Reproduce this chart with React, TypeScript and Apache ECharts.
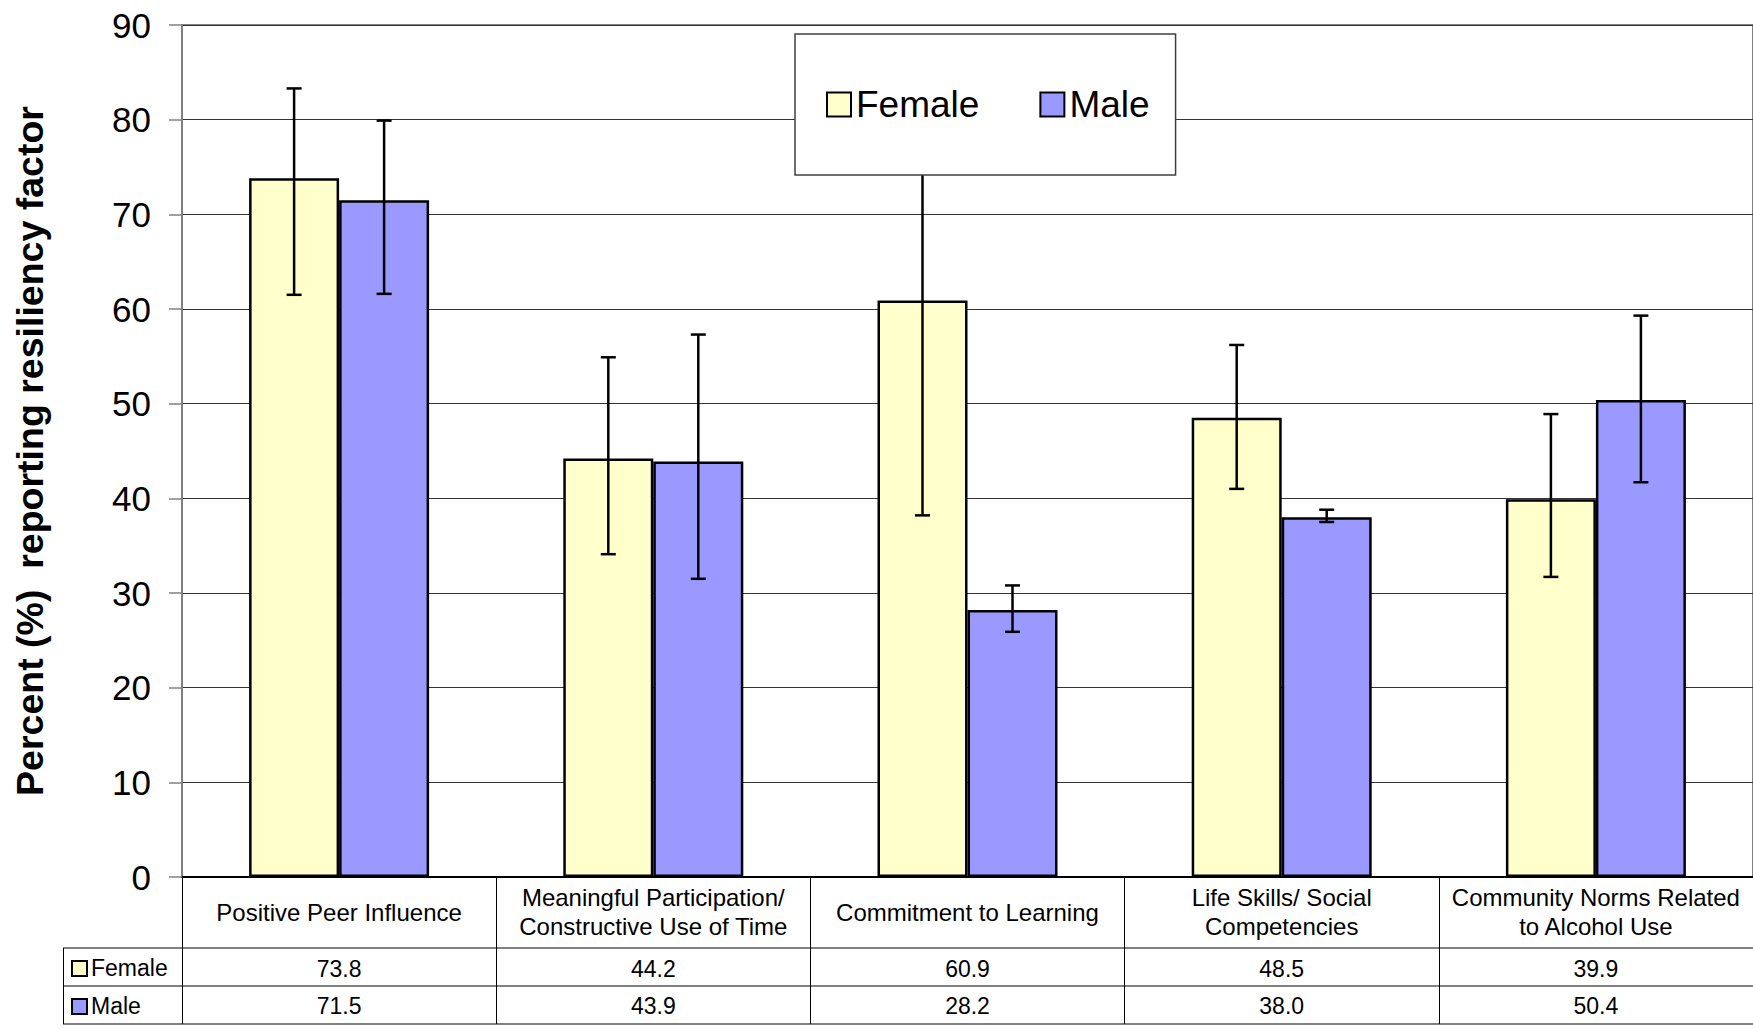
import React, { useEffect, useRef } from "react";
import * as echarts from "echarts";

const categories = [
  "Positive Peer Influence",
  "Meaningful Participation/\nConstructive Use of Time",
  "Commitment to Learning",
  "Life Skills/ Social\nCompetencies",
  "Community Norms Related\nto Alcohol Use",
];
const seriesNames = ["Female", "Male"];
const femaleValues = [73.8, 44.2, 60.9, 48.5, 39.9];
const maleValues = [71.5, 43.9, 28.2, 38.0, 50.4];
const femaleLow = [61.5, 34.1, 38.2, 41.0, 31.7];
const femaleHigh = [83.3, 54.9, 83.6, 56.2, 48.9];
const maleLow = [61.6, 31.5, 25.9, 37.5, 41.7];
const maleHigh = [79.9, 57.3, 30.8, 38.8, 59.3];
const yMin = 0;
const yMax = 90;
const yInterval = 10;
const yTitle = "Percent (%)  reporting resiliency factor";

const FEMALE_COLOR = "#FFFFCC";
const MALE_COLOR = "#9999FF";
const FONT = "'Liberation Sans', Arial, sans-serif";

const W = 1753;
const H = 1029;
const GRID_LEFT = 182;
const GRID_TOP = 25;
const GRID_BOTTOM_Y = 877;
const BAR_W = 90;

function errorRenderer(offset: number) {
  return (params: any, api: any) => {
    const x = api.value(0);
    const lo = api.coord([x, api.value(1)]);
    const hi = api.coord([x, api.value(2)]);
    const px = lo[0] + offset;
    const cap = 7.5;
    const style = { stroke: "#000", lineWidth: 2.5 };
    return {
      type: "group",
      children: [
        { type: "line", shape: { x1: px, y1: hi[1], x2: px, y2: lo[1] }, style },
        { type: "line", shape: { x1: px - cap, y1: hi[1], x2: px + cap, y2: hi[1] }, style },
        { type: "line", shape: { x1: px - cap, y1: lo[1], x2: px + cap, y2: lo[1] }, style },
      ],
    };
  };
}

export default function App() {
  const ref = useRef<HTMLDivElement>(null);

  useEffect(() => {
    if (!ref.current) return;
    const chart = echarts.init(ref.current, null, { renderer: "svg" });

    const tableLine = { stroke: "#808080", lineWidth: 2 };
    const option: any = {
      animation: false,
      backgroundColor: "#fff",
      textStyle: { fontFamily: FONT, color: "#000" },
      grid: {
        left: GRID_LEFT,
        top: GRID_TOP,
        width: W - GRID_LEFT + 2,
        height: GRID_BOTTOM_Y - GRID_TOP,
        show: true,
        borderColor: "#808080",
        borderWidth: 2,
        backgroundColor: "transparent",
      },
      legend: {
        data: seriesNames,
        left: 795,
        top: 34,
        orient: "horizontal",
        padding: [52, 26, 52, 31],
        itemWidth: 24,
        itemHeight: 24,
        itemGap: 60,
        icon: "rect",
        backgroundColor: "#fff",
        borderColor: "#404040",
        borderWidth: 1.5,
        textStyle: { fontSize: 37, fontFamily: FONT, color: "#000" },
        z: 10,
      },
      xAxis: [
        {
          type: "category",
          data: categories,
          position: "bottom",
          axisLine: { show: true, onZero: false, lineStyle: { color: "#000", width: 2 } },
          axisTick: { show: true, length: 147, interval: 0, lineStyle: { color: "#000", width: 1 } },
          axisLabel: {
            interval: 0,
            margin: 35,
            verticalAlign: "middle",
            fontSize: 24,
            lineHeight: 29,
            color: "#000",
            fontFamily: FONT,
          },
          splitLine: { show: false },
        },
        {
          type: "category",
          data: categories,
          position: "bottom",
          axisLine: { show: false, onZero: false },
          axisTick: { show: false },
          axisLabel: {
            interval: 0,
            margin: 92,
            verticalAlign: "middle",
            fontSize: 23,
            color: "#000",
            fontFamily: FONT,
            formatter: (_v: string, i: number) => femaleValues[i].toFixed(1),
          },
        },
        {
          type: "category",
          data: categories,
          position: "bottom",
          axisLine: { show: false, onZero: false },
          axisTick: { show: false },
          axisLabel: {
            interval: 0,
            margin: 129,
            verticalAlign: "middle",
            fontSize: 23,
            color: "#000",
            fontFamily: FONT,
            formatter: (_v: string, i: number) => maleValues[i].toFixed(1),
          },
        },
      ],
      yAxis: {
        type: "value",
        min: yMin,
        max: yMax,
        interval: yInterval,
        name: yTitle,
        nameLocation: "middle",
        nameGap: 152,
        nameRotate: 90,
        nameTextStyle: {
          fontSize: 37.5,
          fontWeight: "bold",
          fontFamily: FONT,
          color: "#000",
          verticalAlign: "middle",
        },
        axisLine: { show: true, lineStyle: { color: "#808080", width: 2 } },
        axisTick: { show: true, length: 13, lineStyle: { color: "#808080", width: 1.5 } },
        axisLabel: { fontSize: 35, margin: 31, color: "#000", fontFamily: FONT },
        splitLine: { show: true, lineStyle: { color: "#333", width: 1 } },
      },
      series: [
        {
          name: seriesNames[0],
          type: "bar",
          data: femaleValues,
          barWidth: BAR_W,
          barGap: "0%",
          itemStyle: { color: FEMALE_COLOR, borderColor: "#000", borderWidth: 2.5 },
          z: 2,
        },
        {
          name: seriesNames[1],
          type: "bar",
          data: maleValues,
          barWidth: BAR_W,
          barGap: "0%",
          itemStyle: { color: MALE_COLOR, borderColor: "#000", borderWidth: 2.5 },
          z: 2,
        },
        {
          name: "femaleError",
          type: "custom",
          renderItem: errorRenderer(-BAR_W / 2),
          encode: { x: 0, y: [1, 2] },
          data: femaleValues.map((_, i) => [i, femaleLow[i], femaleHigh[i]]),
          z: 3,
          silent: true,
        },
        {
          name: "maleError",
          type: "custom",
          renderItem: errorRenderer(BAR_W / 2),
          encode: { x: 0, y: [1, 2] },
          data: maleValues.map((_, i) => [i, maleLow[i], maleHigh[i]]),
          z: 3,
          silent: true,
        },
      ],
      graphic: [
        { type: "line", shape: { x1: 63, y1: 948, x2: W, y2: 948 }, style: tableLine },
        { type: "line", shape: { x1: 63, y1: 986, x2: W, y2: 986 }, style: tableLine },
        { type: "line", shape: { x1: 63, y1: 1024, x2: W, y2: 1024 }, style: tableLine },
        { type: "line", shape: { x1: 63.5, y1: 948, x2: 63.5, y2: 1024 }, style: { stroke: "#000", lineWidth: 1 } },
        {
          type: "rect",
          shape: { x: 72, y: 961, width: 15, height: 15 },
          style: { fill: FEMALE_COLOR, stroke: "#000", lineWidth: 2 },
        },
        {
          type: "text",
          x: 91,
          y: 968,
          style: { text: seriesNames[0], font: `23px ${FONT}`, fill: "#000", textVerticalAlign: "middle" },
        },
        {
          type: "rect",
          shape: { x: 72, y: 999, width: 15, height: 15 },
          style: { fill: MALE_COLOR, stroke: "#000", lineWidth: 2 },
        },
        {
          type: "text",
          x: 91,
          y: 1006,
          style: { text: seriesNames[1], font: `23px ${FONT}`, fill: "#000", textVerticalAlign: "middle" },
        },
      ],
    };

    chart.setOption(option);
    return () => chart.dispose();
  }, []);

  return (
    <div
      ref={ref}
      style={{ position: "absolute", left: 0, top: 0, width: W, height: H, background: "#fff" }}
    />
  );
}
